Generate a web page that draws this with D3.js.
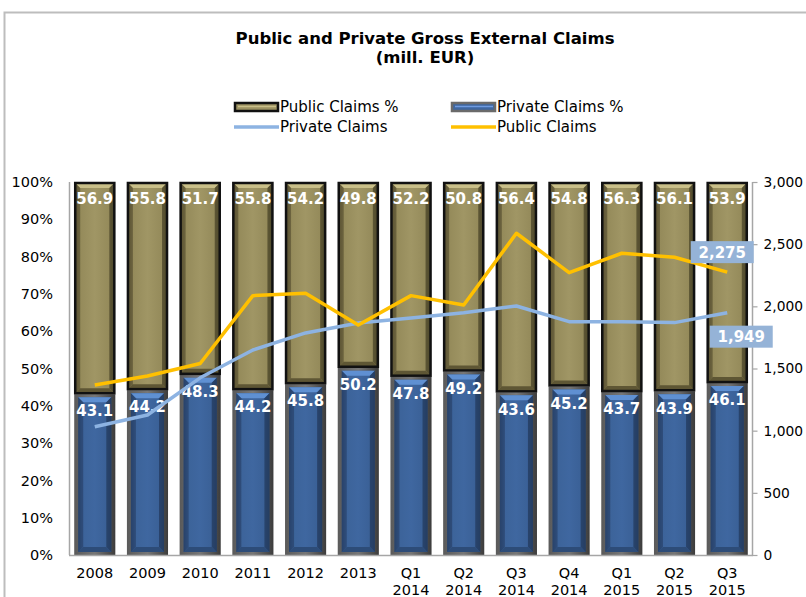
<!DOCTYPE html>
<html>
<head>
<meta charset="utf-8">
<script src="https://cdn.jsdelivr.net/npm/d3@7/dist/d3.min.js"></script>
<style>
  html, body { margin: 0; padding: 0; background: #fff; }
  svg { display: block; }
  text { font-family: "DejaVu Sans", Verdana, sans-serif; }
</style>
</head>
<body>
<svg id="chart" width="806" height="597"></svg>
<script>
// Period labels (two-line for quarters)
const categories = ["2008", "2009", "2010", "2011", "2012", "2013",
  "Q1 2014", "Q2 2014", "Q3 2014", "Q4 2014", "Q1 2015", "Q2 2015", "Q3 2015"];

// Shares of total claims, in percent
const publicPct  = [56.9, 55.8, 51.7, 55.8, 54.2, 49.8, 52.2, 50.8, 56.4, 54.8, 56.3, 56.1, 53.9];
const privatePct = [43.1, 44.2, 48.3, 44.2, 45.8, 50.2, 47.8, 49.2, 43.6, 45.2, 43.7, 43.9, 46.1];

// Levels, mill. EUR
const publicClaims  = [1367, 1440, 1540, 2086, 2105, 1850, 2086, 2011, 2588, 2271, 2427, 2395, 2275];
const privateClaims = [1032, 1126, 1425, 1649, 1786, 1866, 1907, 1949, 2003, 1877, 1877, 1869, 1949];

const pctTicks = [0, 0.1, 0.2, 0.3, 0.4, 0.5, 0.6, 0.7, 0.8, 0.9, 1.0];
const eurTicks = [0, 500, 1000, 1500, 2000, 2500, 3000];

const svg = d3.select("#chart");
const plotL = 70, plotR = 752, plotT = 182, plotB = 555;

const x = d3.scaleBand().domain(categories).range([plotL, plotR])
  .paddingInner(0.22).paddingOuter(0.08);
const yPct = d3.scaleLinear().domain([0, 1]).range([plotB, plotT]);
const yEur = d3.scaleLinear().domain([0, 3000]).range([plotB, plotT]);

// outer chart frame
svg.append("rect").attr("x", 4.5).attr("y", 12.5).attr("width", 820).attr("height", 620)
  .attr("fill", "none").attr("stroke", "#bdbdbd").attr("stroke-width", 2);

// title
const title = svg.append("text").attr("x", 425).attr("y", 44)
  .attr("text-anchor", "middle").attr("font-weight", "bold").attr("font-size", 16.5).attr("fill", "#000");
title.append("tspan").attr("x", 425).text("Public and Private Gross External Claims");
title.append("tspan").attr("x", 425).attr("dy", 19).text("(mill. EUR)");

// gradients
const defs = svg.append("defs");
function hGrad(id, stops) {
  const g = defs.append("linearGradient").attr("id", id).attr("x1", 0).attr("x2", 1).attr("y1", 0).attr("y2", 0);
  stops.forEach(s => g.append("stop").attr("offset", s[0]).attr("stop-color", s[1]));
}
hGrad("olive", [[0, "#6e6540"], [0.12, "#948a5a"], [0.5, "#a09665"], [0.88, "#948a5a"], [1, "#5f5735"]]);
hGrad("blue", [[0, "#2f4f7c"], [0.12, "#3c6399"], [0.5, "#3f67a0"], [0.88, "#3a6096"], [1, "#2c4a74"]]);
hGrad("grayframe", [[0, "#5a5a5a"], [0.5, "#777"], [1, "#3c3c3c"]]);

// bevelled bar segment
function bevel(g, x0, y0, w, h, c) {
  const b = Math.min(5, h / 2);
  g.append("rect").attr("x", x0).attr("y", y0).attr("width", w).attr("height", h).attr("fill", c.fill);
  g.append("polygon").attr("points", [[x0, y0], [x0 + w, y0], [x0 + w - b, y0 + b], [x0 + b, y0 + b]].join(" "))
    .attr("fill", c.top);
  g.append("polygon").attr("points", [[x0, y0], [x0 + b, y0 + b], [x0 + b, y0 + h - b], [x0, y0 + h]].join(" "))
    .attr("fill", c.side).attr("opacity", 0.55);
  g.append("polygon").attr("points", [[x0 + w, y0], [x0 + w - b, y0 + b], [x0 + w - b, y0 + h - b], [x0 + w, y0 + h]].join(" "))
    .attr("fill", c.side).attr("opacity", 0.75);
  g.append("polygon").attr("points", [[x0, y0 + h], [x0 + b, y0 + h - b], [x0 + w - b, y0 + h - b], [x0 + w, y0 + h]].join(" "))
    .attr("fill", c.bottom);
}

const bars = svg.append("g");
categories.forEach((cat, i) => {
  const x0 = x(cat), w = x.bandwidth();
  const yMid = yPct(privatePct[i] / 100);
  const g = bars.append("g");
  // private share (bottom) with gray frame
  g.append("rect").attr("x", x0).attr("y", yMid).attr("width", w).attr("height", plotB - yMid)
    .attr("fill", "url(#grayframe)");
  bevel(g, x0 + 4, yMid + 3, w - 8, plotB - yMid - 6,
    { fill: "url(#blue)", top: "#5f90d2", side: "#23395c", bottom: "#2d4c78" });
  // public share (top) with black outline
  const yTop = yPct(1);
  bevel(g, x0 + 1, yTop + 1, w - 2, yMid - yTop - 2,
    { fill: "url(#olive)", top: "#c9bf88", side: "#4a4428", bottom: "#5e5634" });
  g.append("rect").attr("x", x0 + 1).attr("y", yTop + 1).attr("width", w - 2).attr("height", yMid - yTop - 2)
    .attr("fill", "none").attr("stroke", "#111").attr("stroke-width", 2.5);
});

// axes
const axisColor = "#a6a6a6";
svg.append("line").attr("x1", plotL - 0.5).attr("x2", plotL - 0.5).attr("y1", plotT).attr("y2", plotB)
  .attr("stroke", axisColor).attr("stroke-width", 1.5);
svg.append("line").attr("x1", plotR + 0.5).attr("x2", plotR + 0.5).attr("y1", plotT).attr("y2", plotB)
  .attr("stroke", axisColor).attr("stroke-width", 1.5);
svg.append("line").attr("x1", plotL - 1).attr("x2", plotR + 1).attr("y1", plotB + 0.5).attr("y2", plotB + 0.5)
  .attr("stroke", axisColor).attr("stroke-width", 1.5);

const leftAxis = d3.axisLeft(yPct).tickValues(pctTicks).tickFormat(d3.format(".0%")).tickSize(0).tickPadding(17);
const gl = svg.append("g").attr("transform", `translate(${plotL},0)`).call(leftAxis);
gl.select(".domain").remove();
gl.selectAll("text").attr("font-size", 14.5).attr("fill", "#000").attr("font-family", "DejaVu Sans");

const rightAxis = d3.axisRight(yEur).tickValues(eurTicks).tickFormat(d3.format(",")).tickSize(5).tickPadding(6);
const gr = svg.append("g").attr("transform", `translate(${plotR + 0.5},0)`).call(rightAxis);
gr.select(".domain").remove();
gr.selectAll("line").attr("stroke", axisColor).attr("stroke-width", 1.2);
gr.selectAll("text").attr("font-size", 13.8).attr("fill", "#000").attr("font-family", "DejaVu Sans");

// category labels
const xl = svg.append("g");
categories.forEach(cat => {
  const parts = cat.split(" ");
  const t = xl.append("text").attr("x", x(cat) + x.bandwidth() / 2).attr("y", 578)
    .attr("text-anchor", "middle").attr("font-size", 14.5).attr("fill", "#000");
  parts.forEach((p, k) => t.append("tspan").attr("x", x(cat) + x.bandwidth() / 2).attr("dy", k ? 17 : 0).text(p));
});

// percentage labels inside bars
categories.forEach((cat, i) => {
  const cx = x(cat) + x.bandwidth() / 2;
  svg.append("text").attr("x", cx).attr("y", yPct(1) + 17).attr("dy", "0.35em")
    .attr("text-anchor", "middle").attr("font-weight", "bold").attr("font-size", 15).attr("fill", "#fff")
    .text(publicPct[i].toFixed(1));
  svg.append("text").attr("x", cx).attr("y", yPct(privatePct[i] / 100) + 17).attr("dy", "0.35em")
    .attr("text-anchor", "middle").attr("font-weight", "bold").attr("font-size", 15).attr("fill", "#fff")
    .text(privatePct[i].toFixed(1));
});

// lines on the secondary axis
const cx = d => x(d) + x.bandwidth() / 2;
const lineGen = vals => d3.line().x((d, i) => cx(categories[i])).y(d => yEur(d))(vals);
svg.append("path").attr("d", lineGen(privateClaims)).attr("fill", "none")
  .attr("stroke", "#8db3e2").attr("stroke-width", 3.5).attr("stroke-linejoin", "round");
svg.append("path").attr("d", lineGen(publicClaims)).attr("fill", "none")
  .attr("stroke", "#ffc000").attr("stroke-width", 3.5).attr("stroke-linejoin", "round");

// end-value callouts
const last = categories.length - 1;
function callout(val, dx, dy) {
  const px = cx(categories[last]) + dx, py = yEur(val) + dy;
  svg.append("rect").attr("x", px - 31.5).attr("y", py - 11).attr("width", 63).attr("height", 22).attr("fill", "#95b3d7");
  svg.append("text").attr("x", px).attr("y", py).attr("dy", "0.36em").attr("text-anchor", "middle")
    .attr("font-weight", "bold").attr("font-size", 15).attr("fill", "#fff").text(d3.format(",")(val));
}
callout(publicClaims[last], -5, -20);
callout(privateClaims[last], 14, 24);

// legend
const lg = svg.append("g");
const legendItems = [
  { label: "Public Claims %", type: "box", fill: "#9c9262", stroke: "#111", hi: "#c9bf88", x: 234, y: 107 },
  { label: "Private Claims %", type: "box", fill: "#3f67a0", stroke: "#6a6a6a", hi: "#6f9be0", x: 451, y: 107 },
  { label: "Private Claims", type: "line", color: "#8db3e2", x: 234, y: 127 },
  { label: "Public Claims", type: "line", color: "#ffc000", x: 451, y: 127 }
];
legendItems.forEach(it => {
  if (it.type === "box") {
    lg.append("rect").attr("x", it.x + 1).attr("y", it.y - 4).attr("width", 43).attr("height", 8)
      .attr("fill", it.fill).attr("stroke", it.stroke).attr("stroke-width", 2.5);
    lg.append("line").attr("x1", it.x + 4).attr("x2", it.x + 42).attr("y1", it.y - 0.5).attr("y2", it.y - 0.5)
      .attr("stroke", it.hi).attr("stroke-width", 1.5);
  } else {
    lg.append("line").attr("x1", it.x).attr("x2", it.x + 45).attr("y1", it.y).attr("y2", it.y)
      .attr("stroke", it.color).attr("stroke-width", 3.5);
  }
  lg.append("text").attr("x", it.x + 46).attr("y", it.y).attr("dy", "0.36em")
    .attr("font-size", 15).attr("fill", "#000").text(it.label);
});
</script>
</body>
</html>
